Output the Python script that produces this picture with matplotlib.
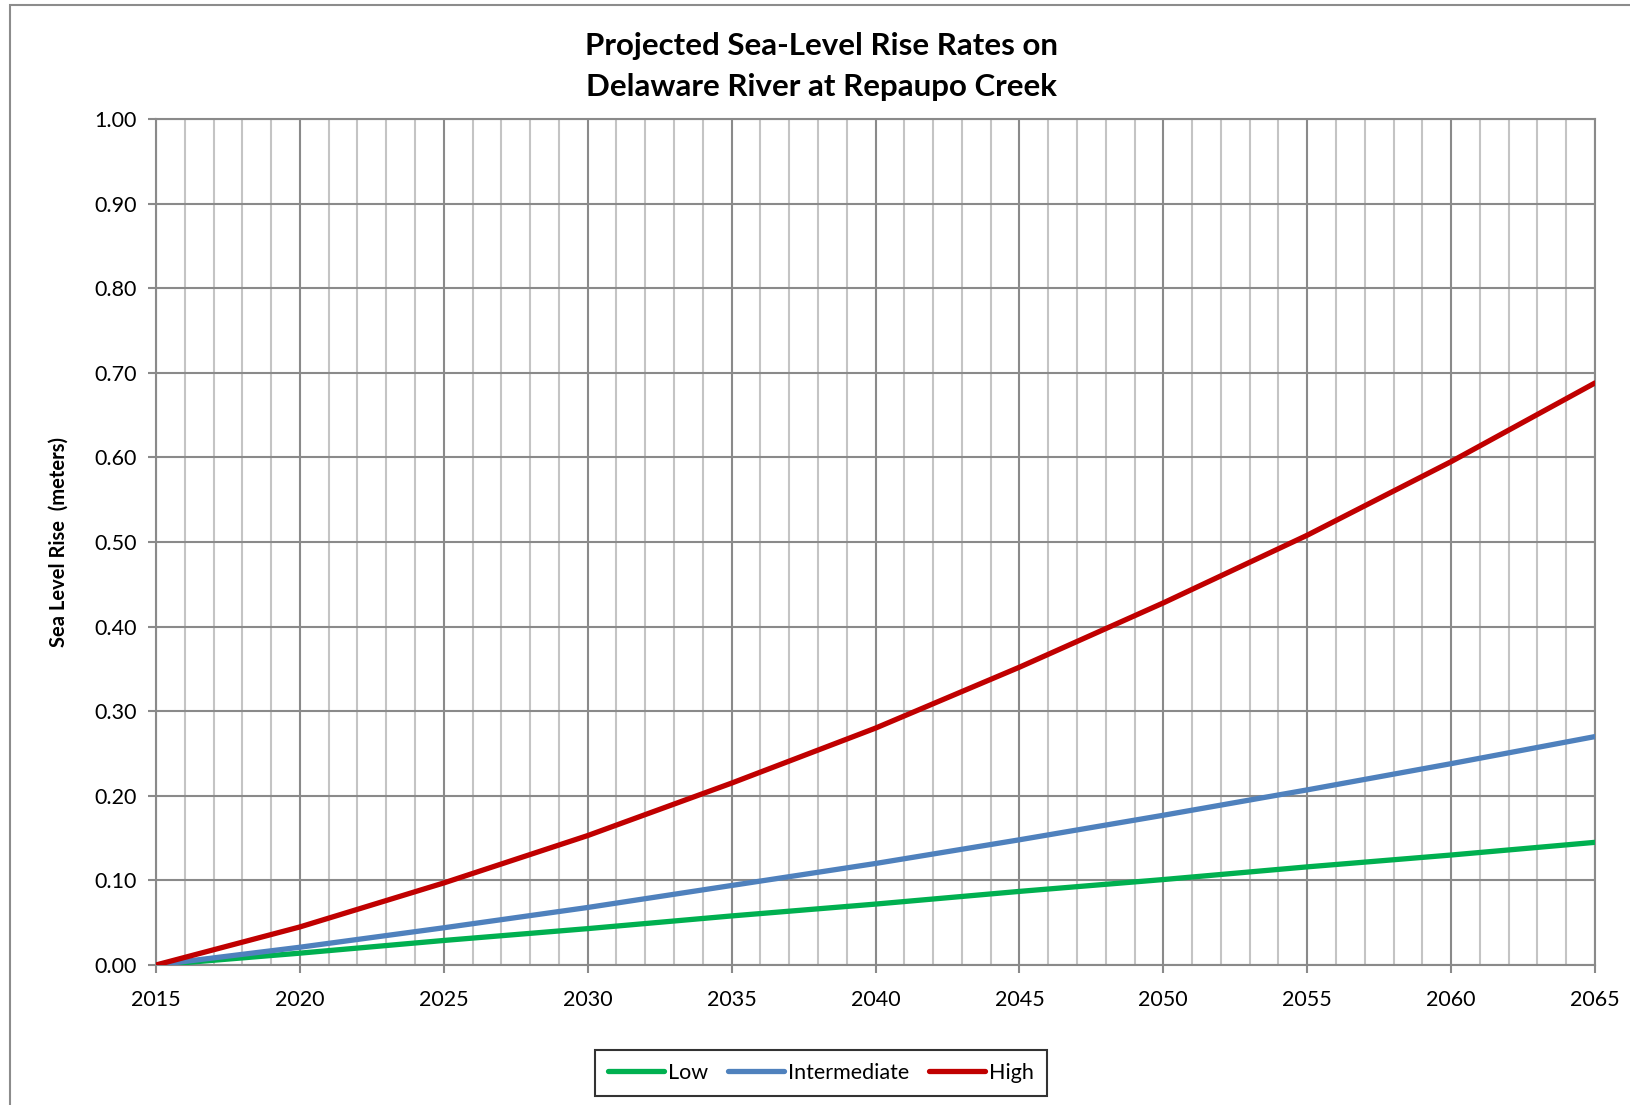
import numpy as np
import matplotlib
matplotlib.use("Agg")
import matplotlib.pyplot as plt
from matplotlib.patches import Rectangle
from matplotlib.ticker import MultipleLocator

years = [2015, 2020, 2025, 2030, 2035, 2040, 2045, 2050, 2055, 2060, 2065]
low = [0.000, 0.014, 0.029, 0.043, 0.058, 0.072, 0.087, 0.101, 0.116, 0.130, 0.145]
intermediate = [0.000, 0.021, 0.044, 0.068, 0.094, 0.120, 0.148, 0.177, 0.207, 0.238, 0.270]
high = [0.000, 0.045, 0.097, 0.153, 0.215, 0.280, 0.352, 0.428, 0.508, 0.595, 0.688]

series = [("Low", low, "#00B050"),
          ("Intermediate", intermediate, "#4F81BD"),
          ("High", high, "#C00000")]

plt.rcParams["font.family"] = ["Lato", "DejaVu Sans"]

W, H = 1631, 1105
fig = plt.figure(figsize=(W / 100, H / 100), dpi=100)
ax = fig.add_axes([156 / W, 1 - 965 / H, (1595 - 156) / W, (965 - 119) / H])

# outer chart frame (right/bottom edges fall outside the image)
fig.patches.append(Rectangle((10 / W, -0.05), 1.1, 1 - 5 / H + 0.05,
                             transform=fig.transFigure, fill=False,
                             edgecolor="#8c8c8c", linewidth=1.5))

for name, vals, color in series:
    ax.plot(years, vals, color=color, linewidth=3.8, label=name,
            solid_capstyle="round", zorder=3)

ax.set_xlim(2015, 2065)
ax.set_ylim(0, 1.0)
ax.xaxis.set_major_locator(MultipleLocator(5))
ax.xaxis.set_minor_locator(MultipleLocator(1))
ax.yaxis.set_major_locator(MultipleLocator(0.1))
ax.yaxis.set_major_formatter(matplotlib.ticker.FormatStrFormatter("%.2f"))

ax.grid(which="major", color="#8a8a8a", linewidth=1.5)
ax.grid(which="minor", axis="x", color="#c4c4c4", linewidth=1.5)
ax.set_axisbelow(True)
for sp in ax.spines.values():
    sp.set_color("#8a8a8a")
    sp.set_linewidth(1.5)

ax.tick_params(axis="both", which="major", labelsize=15.5, color="#8a8a8a",
               length=6, width=1.5)
ax.tick_params(axis="x", which="major", pad=12)
ax.tick_params(axis="y", which="major", pad=8)
ax.tick_params(axis="x", which="minor", length=0)

ax.set_ylabel("Sea Level Rise  (meters)", fontsize=14.5, fontweight="bold",
              labelpad=18)

fig.text(822 / W, 1 - 46 / H, "Projected Sea-Level Rise Rates on",
         ha="center", va="center", fontsize=22.5, fontweight="bold")
fig.text(822 / W, 1 - 87 / H, "Delaware River at Repaupo Creek",
         ha="center", va="center", fontsize=22.5, fontweight="bold")

leg = fig.legend(loc="center", bbox_to_anchor=(821 / W, 1 - 1073 / H),
                 ncol=3, fontsize=15.5, frameon=True, fancybox=False,
                 edgecolor="black", handlelength=2.6, columnspacing=0.9,
                 handletextpad=0.2, borderpad=0.6, borderaxespad=0)
leg.get_frame().set_linewidth(1.5)

plt.savefig("out.png", dpi=100)
plt.close()
